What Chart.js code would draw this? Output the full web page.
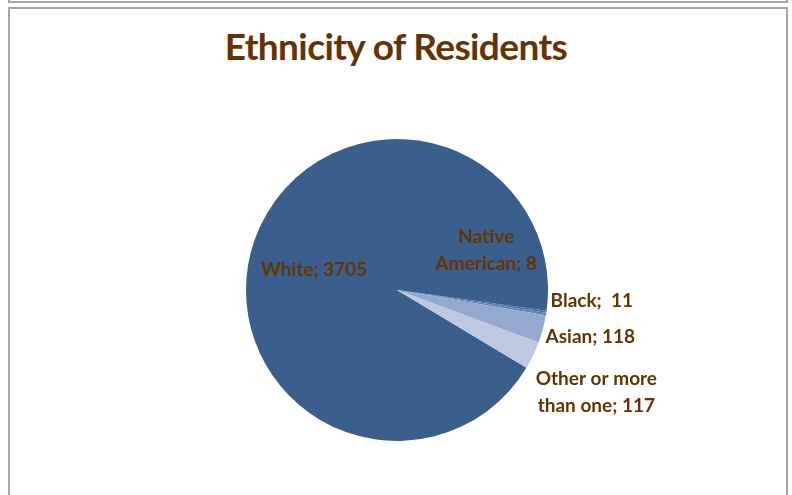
<!DOCTYPE html>
<html>
<head>
<meta charset="utf-8">
<script src="https://cdn.jsdelivr.net/npm/chart.js@4"></script>
<style>
  html, body { margin: 0; padding: 0; background: #fff; }
  #wrap { position: relative; width: 792px; height: 495px; overflow: hidden; }
  #prev { position: absolute; left: 8px; top: -10px; width: 776px; height: 11px; border: 2px solid #a6a6a6; border-top: none; }
  #frame { position: absolute; left: 8px; top: 7px; width: 776px; height: 500px; border: 2px solid #a6a6a6; border-bottom: none; }
  #title { position: absolute; left: 0; width: 792px; top: 23px; text-align: center;
    font-family: Lato, "Open Sans", sans-serif; font-weight: bold; font-size: 37px; color: #663300; letter-spacing: -0.6px; }
  canvas { position: absolute; left: 0; top: 0; }
</style>
</head>
<body>
<div id="wrap">
  <div id="prev"></div>
  <div id="frame"></div>
  <div id="title">Ethnicity of Residents</div>
  <canvas id="chart" width="792" height="495"></canvas>
</div>
<script>
const categories = ["White", "Native American", "Black", "Asian", "Other or more than one"];
const residents = [3705, 8, 11, 118, 117];
const sliceColors = ["#3b5f8d", "#4a74aa", "#5a82b8", "#95a9d0", "#bdc9e1"];

// label lines and anchor (as fraction of radius from pie centre)
const labelLines = [
  ["White; 3705"],
  ["Native", "American; 8"],
  ["Black;  11"],
  ["Asian; 118"],
  ["Other or more", "than one; 117"],
];
const labelAnchors = [[-0.55, -0.13], [0.59, -0.26], [1.29, 0.07], [1.28, 0.31], [1.32, 0.68]];

const pieLabels = {
  id: "pieLabels",
  afterDatasetsDraw(chart) {
    const ctx = chart.ctx;
    const arcs = chart.getDatasetMeta(0).data;
    ctx.save();
    ctx.font = "bold 19px Lato, 'Open Sans', sans-serif";
    ctx.fillStyle = "#663300";
    ctx.textAlign = "center";
    ctx.textBaseline = "middle";
    arcs.forEach((arc, i) => {
      const r = arc.outerRadius;
      const cx = arc.x + labelAnchors[i][0] * r;
      const cy = arc.y + labelAnchors[i][1] * r;
      const lines = labelLines[i];
      const lh = 27;
      lines.forEach((t, j) => {
        ctx.fillText(t, cx, cy + (j - (lines.length - 1) / 2) * lh);
      });
    });
    ctx.restore();
  },
};

new Chart(document.getElementById("chart"), {
  type: "pie",
  data: {
    labels: categories,
    datasets: [{ data: residents, backgroundColor: sliceColors, borderWidth: 0 }],
  },
  options: {
    responsive: false,
    animation: false,
    rotation: 121,
    layout: { padding: { top: 139, bottom: 54, left: 2, right: 0 } },
    plugins: { legend: { display: false }, tooltip: { enabled: false } },
  },
  plugins: [pieLabels],
});
</script>
</body>
</html>
